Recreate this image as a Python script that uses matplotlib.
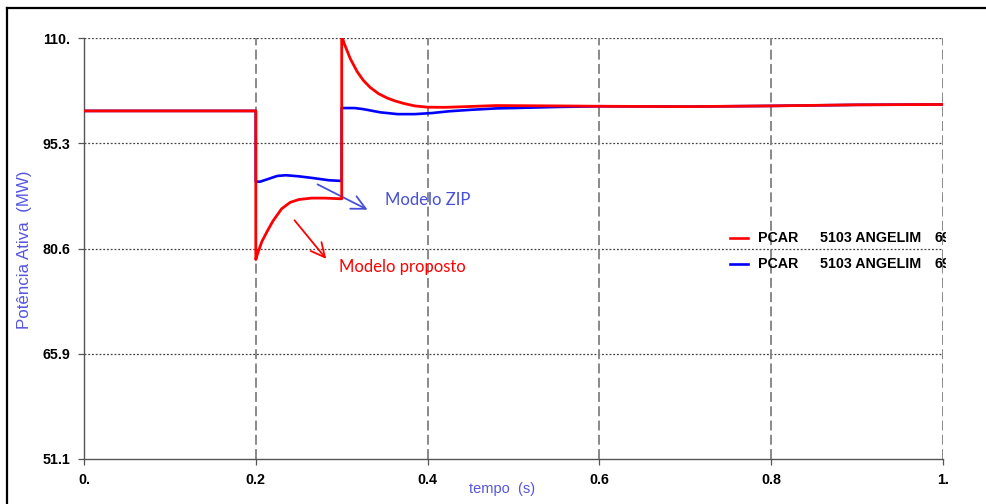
import matplotlib.pyplot as plt
from matplotlib.lines import Line2D
from matplotlib.transforms import Bbox
import numpy as np

# ---------------------------------------------------------------------------
# Data
# ---------------------------------------------------------------------------
t_prop = [0.0, 0.2, 0.2, 0.202, 0.207, 0.213, 0.220, 0.230, 0.240, 0.250,
          0.265, 0.280, 0.300, 0.300, 0.303, 0.310, 0.318, 0.325, 0.333,
          0.343, 0.353, 0.362, 0.372, 0.385, 0.400, 0.420, 0.450, 0.480,
          0.550, 0.600, 0.700, 0.800, 0.900, 1.0]
p_prop = [99.8, 99.8, 79.0, 79.8, 81.5, 82.9, 84.4, 86.1, 87.0, 87.4,
          87.6, 87.6, 87.5, 110.3, 109.2, 107.1, 105.3, 104.1, 103.1,
          102.2, 101.6, 101.2, 100.85, 100.5, 100.32, 100.3, 100.42, 100.55,
          100.5, 100.45, 100.4, 100.5, 100.65, 100.7]

t_zip = [0.0, 0.2, 0.2, 0.205, 0.215, 0.225, 0.235, 0.250, 0.267, 0.285,
         0.300, 0.300, 0.315, 0.325, 0.345, 0.365, 0.385, 0.405, 0.425,
         0.450, 0.480, 0.500, 0.550, 0.600, 0.700, 0.800, 0.900, 1.0]
p_zip = [99.8, 99.8, 89.9, 89.9, 90.3, 90.7, 90.8, 90.65, 90.4, 90.1,
         90.0, 100.2, 100.2, 100.05, 99.6, 99.35, 99.35, 99.5, 99.75,
         99.95, 100.15, 100.2, 100.35, 100.45, 100.4, 100.5, 100.65, 100.7]

x_ticks = [0.0, 0.2, 0.4, 0.6, 0.8, 1.0]
x_ticklabels = ['0.', '0.2', '0.4', '0.6', '0.8', '1.']
y_ticks = list(np.linspace(51.1, 110.0, 5))
y_ticklabels = ['51.1', '65.9', '80.6', '95.3', '110.']

legend_rows = ['PCAR', 'PCAR']
legend_bus = ['5103 ANGELIM', '5103 ANGELIM']
legend_kv = ['69-0', '69-0']

RED = '#ff0000'
BLUE = '#0000ff'
LABEL_BLUE = '#5555e0'
ZIP_BLUE = '#4650d8'

# ---------------------------------------------------------------------------
# Figure
# ---------------------------------------------------------------------------
W, H = 987, 504
fig = plt.figure(figsize=(W / 100, H / 100), dpi=100)
ax = fig.add_axes([84 / W, 1 - 459 / H, 859 / W, 421 / H])

ax.set_xlim(0, 1)
ax.set_ylim(51.1, 110.0)

# grid: dotted horizontals, long-dashed verticals
for y in y_ticks[1:]:
    ax.axhline(y, color='#444444', lw=0.9, ls=(0, (1.5, 1.5)), zorder=1)
for x in x_ticks[1:]:
    ax.axvline(x, color='#808080', lw=1.3, ls=(0, (5.5, 2.4)), zorder=1)

ax.plot(t_zip, p_zip, color=BLUE, lw=1.9, zorder=3)
ax.plot(t_prop, p_prop, color=RED, lw=2.0, zorder=4)

for s in ('top', 'right'):
    ax.spines[s].set_visible(False)
for s in ('left', 'bottom'):
    ax.spines[s].set_color('#555555')
    ax.spines[s].set_linewidth(1.0)

ax.set_xticks(x_ticks)
ax.set_xticklabels(x_ticklabels)
ax.set_yticks(y_ticks)
ax.set_yticklabels(y_ticklabels)
ax.tick_params(length=4, width=0.9, color='#555555', pad=6)
for lab in ax.get_xticklabels() + ax.get_yticklabels():
    lab.set_fontfamily('Liberation Sans')
    lab.set_fontweight('bold')
    lab.set_fontsize(10.3)

fig.text(25 / W, 1 - 250 / H, 'Potência Ativa  (MW)', rotation=90,
         ha='center', va='center', color=LABEL_BLUE,
         family='Liberation Sans', fontsize=12.2)
fig.text(502 / W, 1 - 489 / H, 'tempo  (s)', ha='center', va='center',
         color=LABEL_BLUE, family='Liberation Sans', fontsize=10.5)

# legend-like block, clipped just past the right edge of the axes
clip = Bbox.from_extents(0, 0, 946, H)
for i, (col, a, b, c) in enumerate(zip([RED, BLUE], legend_rows,
                                        legend_bus, legend_kv)):
    yp = 1 - (238 + 26 * i - 38) / 421
    ax.plot([(730 - 84) / 859, (748 - 84) / 859], [yp, yp], color=col,
            lw=1.9, transform=ax.transAxes, clip_on=False, zorder=5)
    for txt, xp in ((a, 758), (b, 820), (c, 935)):
        t = ax.text((xp - 84) / 859, yp, txt, transform=ax.transAxes,
                    ha='left', va='center', family='Liberation Sans',
                    fontweight='bold', fontsize=10.3, zorder=5)
        t.set_clip_box(clip)
        t.set_clip_on(True)

# annotations
ax.annotate('', xy=(0.333, 85.8), xytext=(0.269, 89.7),
            arrowprops=dict(arrowstyle='->,head_length=1.0,head_width=0.5',
                            color=ZIP_BLUE, lw=1.3))
ax.text(0.350, 87.3, 'Modelo ZIP', color=ZIP_BLUE, family='Lato',
        fontsize=12, ha='left', va='center')
ax.annotate('', xy=(0.284, 78.8), xytext=(0.243, 84.8),
            arrowprops=dict(arrowstyle='->,head_length=1.0,head_width=0.5',
                            color=RED, lw=1.3))
ax.text(0.297, 77.95, 'Modelo proposto', color=RED, family='Lato',
        fontsize=12, ha='left', va='center')

# outer frame (top and left edges only)
fig.add_artist(Line2D([7 / W, 1], [1 - 8 / H, 1 - 8 / H], color='black',
                      lw=1.6, transform=fig.transFigure))
fig.add_artist(Line2D([7 / W, 7 / W], [0, 1 - 8 / H], color='black',
                      lw=1.6, transform=fig.transFigure))

fig.savefig('out.png', dpi=100)
